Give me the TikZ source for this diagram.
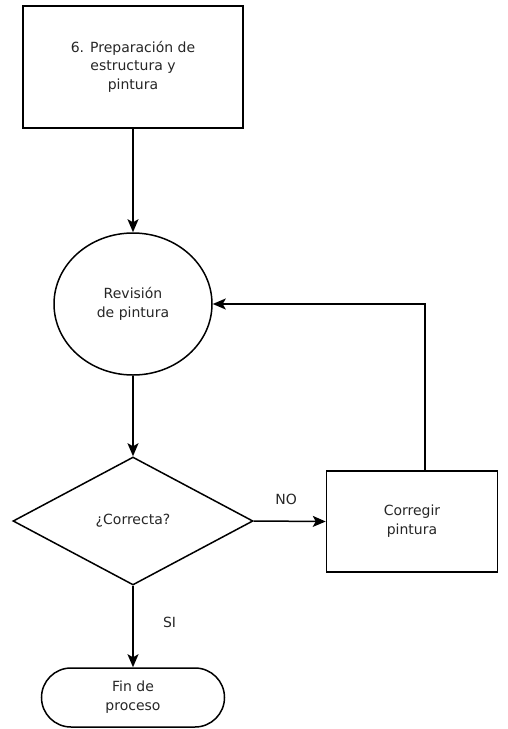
\documentclass[tikz,border=0pt]{standalone}
\usepackage{fontspec}
\setmainfont{DejaVu Sans}
\usetikzlibrary{shapes.geometric,shapes.misc,arrows.meta}
\begin{document}
\begin{tikzpicture}[x=1pt,y=-1pt,
  every node/.style={font=\fontsize{14}{19}\selectfont, text=black!85, align=center},
  box/.style={draw, line width=1.5pt, rectangle, inner sep=0pt},
  oval/.style={draw, line width=1.5pt, ellipse, inner sep=0pt},
  decision/.style={draw, line width=1.5pt, diamond, aspect=1.875, inner sep=0pt},
  terminal/.style={draw, line width=1.5pt, rounded rectangle, inner sep=0pt},
  flow/.style={line width=1.5pt, -{Stealth[length=13pt,width=11pt,inset=3pt]}},
  lbl/.style={font=\fontsize{14}{16}\selectfont}
]
\useasboundingbox (0,0) rectangle (508,729);

\node[box, minimum width=220pt, minimum height=122pt] (prep) at (133,67)
  {\raisebox{-4pt}{\fontsize{14}{18.5}\selectfont
   \begin{tabular}{@{}c@{}}6. Preparación de\\estructura y\\pintura\end{tabular}}};
\node[oval, minimum width=158pt, minimum height=142pt] (rev) at (133,304)
  {Revisión\\de pintura};
\node[decision, minimum width=240pt, minimum height=128pt] (ok) at (133,521)
  {¿Correcta?};
\node[box, minimum width=171pt, minimum height=101pt] (fix) at (412,521.5)
  {Corregir\\pintura};
\node[terminal, minimum width=183pt, minimum height=59pt] (fin) at (133,697.5)
  {Fin de\\proceso};

\coordinate (fixtop) at ([xshift=13pt]fix.north);
\coordinate (up) at (fixtop |- rev.east);

\draw[flow] (prep.south) -- (rev.north);
\draw[flow] (rev.south) -- (ok.north);
\draw[flow] (ok.east) -- node[lbl, above=12pt, pos=0.45] (no) {NO} (fix.west);
\draw[flow] (fixtop) -- (up) -- (rev.east);
\draw[flow] (ok.south) -- node[lbl, right=26pt, pos=0.45] (si) {SI} (fin.north);
\end{tikzpicture}
\end{document}
